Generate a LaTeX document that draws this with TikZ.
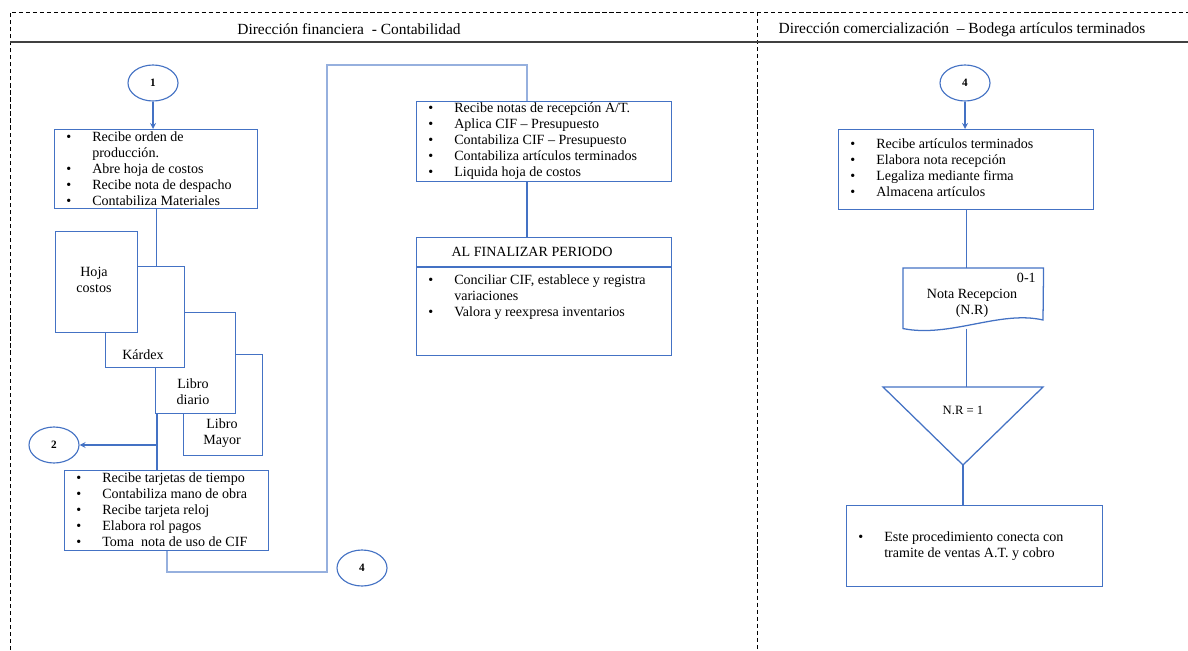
\documentclass[tikz,border=0pt]{standalone}
\usepackage{fontspec}
\setmainfont{Liberation Serif}
\usetikzlibrary{positioning,shapes.geometric}
\newlength{\pxu}\setlength{\pxu}{0.025cm}
\definecolor{flowblue}{RGB}{68,114,196}
\definecolor{flowpale}{RGB}{150,176,222}
\newcommand{\bul}{\makebox[26\pxu][l]{\textbullet}}
\newcommand{\ind}{\hspace*{26\pxu}}
\tikzset{
  boxline/.style={draw=flowblue, line width=0.9pt},
  procbox/.style={boxline, fill=white, rectangle, inner sep=0pt, anchor=north west},
  listtext/.style={anchor=north west, inner sep=0pt, align=left, font=\fontsize{10}{11.4}\selectfont},
  doctext/.style={inner sep=0pt, align=center, font=\fontsize{10}{11.4}\selectfont},
  conn/.style={ellipse, draw=flowblue, line width=0.8pt, fill=white, minimum width=50\pxu, minimum height=36\pxu, inner sep=0pt, font=\bfseries\fontsize{8}{9}\selectfont},
  flow/.style={draw=flowblue, line width=0.9pt},
  flowpale/.style={draw=flowpale, line width=1.6pt},
  lane/.style={densely dashed, line width=0.6pt},
  lanetitle/.style={inner sep=0pt, font=\fontsize{11}{13}\selectfont}
}
\begin{document}
\begin{tikzpicture}[x=0.025cm, y=-0.025cm, >=stealth]
  \useasboundingbox (0,0) rectangle (1188,650);
  % lanes
  \draw[lane] (10,650) -- (10,12) -- (1188,12);
  \draw[lane] (757,12) -- (757,650);
  \draw[line width=1.1pt, black!75] (10,42) -- (1188,42);
  \node[lanetitle] (lanefin) at (349,29) {Dirección financiera \ - Contabilidad};
  \node[lanetitle] (lanecom) at (962,30) {Dirección comercialización \ – Bodega artículos terminados};

  % connectors (off-page)
  \node[conn] (c1) at (153,83) {1};
  \node[conn] (c2) at (54,445) {2};
  \node[conn] (c4) at (362,568) {4};
  \node[conn] (c4b) at (965,83) {4};

  % contabilidad
  \node[procbox, minimum width=203\pxu, minimum height=79\pxu] (recibe) at (54,129) {};
  \node[listtext] (recibetx) at ([xshift=12\pxu, yshift=-2\pxu]recibe.north west)
    {\bul Recibe orden de\\ \ind producción.\\ \bul Abre hoja de costos\\ \bul Recibe nota de despacho\\ \bul Contabiliza Materiales};

  \node[procbox, minimum width=79\pxu, minimum height=101\pxu] (mayor) at (183,354) {};
  \node[doctext] (mayortx) at (222,433) {Libro\\Mayor};
  \node[procbox, minimum width=80\pxu, minimum height=101\pxu] (diario) at (155,312) {};
  \node[doctext] (diariotx) at (193,392) {Libro\\diario};
  \node[procbox, minimum width=79\pxu, minimum height=101\pxu] (kardex) at (105,266) {};
  \node[doctext] (kardextx) at (143,355) {Kárdex};
  \node[procbox, minimum width=82\pxu, minimum height=101\pxu] (hoja) at (55,231) {};
  \node[doctext] (hojatx) at (94,280) {Hoja\\costos};

  \node[procbox, minimum width=204\pxu, minimum height=80\pxu] (tarjetas) at (64,470) {};
  \node[listtext] (tarjetastx) at ([xshift=12\pxu, yshift=-2\pxu]tarjetas.north west)
    {\bul Recibe tarjetas de tiempo\\ \bul Contabiliza mano de obra\\ \bul Recibe tarjeta reloj\\ \bul Elabora rol pagos\\ \bul Toma\ \ nota de uso de CIF};

  \node[procbox, minimum width=255\pxu, minimum height=80\pxu] (recepcion) at (416,101) {};
  \node[listtext] (recepciontx) at ([xshift=12\pxu, yshift=-1.5\pxu]recepcion.north west)
    {\bul Recibe notas de recepción A/T.\\ \bul Aplica CIF – Presupuesto\\ \bul Contabiliza CIF – Presupuesto\\ \bul Contabiliza artículos terminados\\ \bul Liquida hoja de costos};

  \node[procbox, minimum width=255\pxu, minimum height=118\pxu] (periodo) at (416,237) {};
  \draw[boxline] ([yshift=-30\pxu]periodo.north west) -- ([yshift=-30\pxu]periodo.north east);
  \node[doctext] (periodotit) at (532,252) {AL FINALIZAR PERIODO};
  \node[listtext] (periodotx) at ([xshift=12\pxu, yshift=-37.5\pxu]periodo.north west)
    {\bul Conciliar CIF, establece y registra\\ \ind variaciones\\ \bul Valora y reexpresa inventarios};

  \coordinate (split) at (157,445);
  \coordinate (turnA) at (327,572);
  \coordinate (turnB) at (327,65);
  \coordinate (turnC) at (527,65);
  \draw[flow,->] (c1.south) -- (c1.south |- recibe.north);
  \draw[flow] (recibe.south) -- (recibe.south |- kardex.north);
  \draw[flow] (split |- diario.south) -- (split |- tarjetas.north);
  \draw[flow,->] (split) -- (c2.east);
  \draw[flowpale] (tarjetas.south) |- (turnA) -- (turnB) -- (turnC) -- (turnC |- recepcion.north);
  \draw[flow] (turnC |- recepcion.south) -- (turnC |- periodo.north);

  % bodega
  \node[procbox, minimum width=255\pxu, minimum height=80\pxu] (recart) at (838,129) {};
  \node[listtext] (recarttx) at ([xshift=12\pxu, yshift=-9.5\pxu]recart.north west)
    {\bul Recibe artículos terminados\\ \bul Elabora nota recepción\\ \bul Legaliza mediante firma\\ \bul Almacena artículos};

  \node[inner sep=0pt, minimum width=140\pxu, minimum height=60\pxu, anchor=north west] (nota) at (903,268) {};
  \coordinate (trl) at (883,387);
  \coordinate (trr) at (1043,387);
  \coordinate (trb) at (963,465);
  \node[procbox, minimum width=256\pxu, minimum height=81\pxu] (fin) at (846,505) {};

  \draw[flow,->] (c4b.south) -- (c4b.south |- recart.north);
  \draw[flow] (recart.south) -- (recart.south |- nota.north);
  \draw[flow] (recart.south |- nota.south) -- (recart.south |- trl);
  \draw[flow] (trb) -- (trb |- fin.north);

  \draw[boxline, fill=white] (nota.south west) -- (nota.north west) -- (nota.north east) -- (1043,320)
    .. controls (1000,310) and (950,338) .. (nota.south west) -- cycle;
  \node[doctext, anchor=east] (notanum) at (1036,278) {0-1};
  \node[doctext] (notatx) at (972,303) {Nota Recepcion\\(N.R)};

  \draw[boxline, fill=white] (trl) -- (trr) -- (trb) -- cycle;
  \node[doctext, font=\fontsize{9}{11}\selectfont] (nrtx) at (963,410) {N.R = 1};

  \node[listtext] (fintx) at ([xshift=12\pxu, yshift=-26.5\pxu]fin.north west)
    {\bul Este procedimiento conecta con\\ \ind tramite de ventas A.T. y cobro};
\end{tikzpicture}
\end{document}
